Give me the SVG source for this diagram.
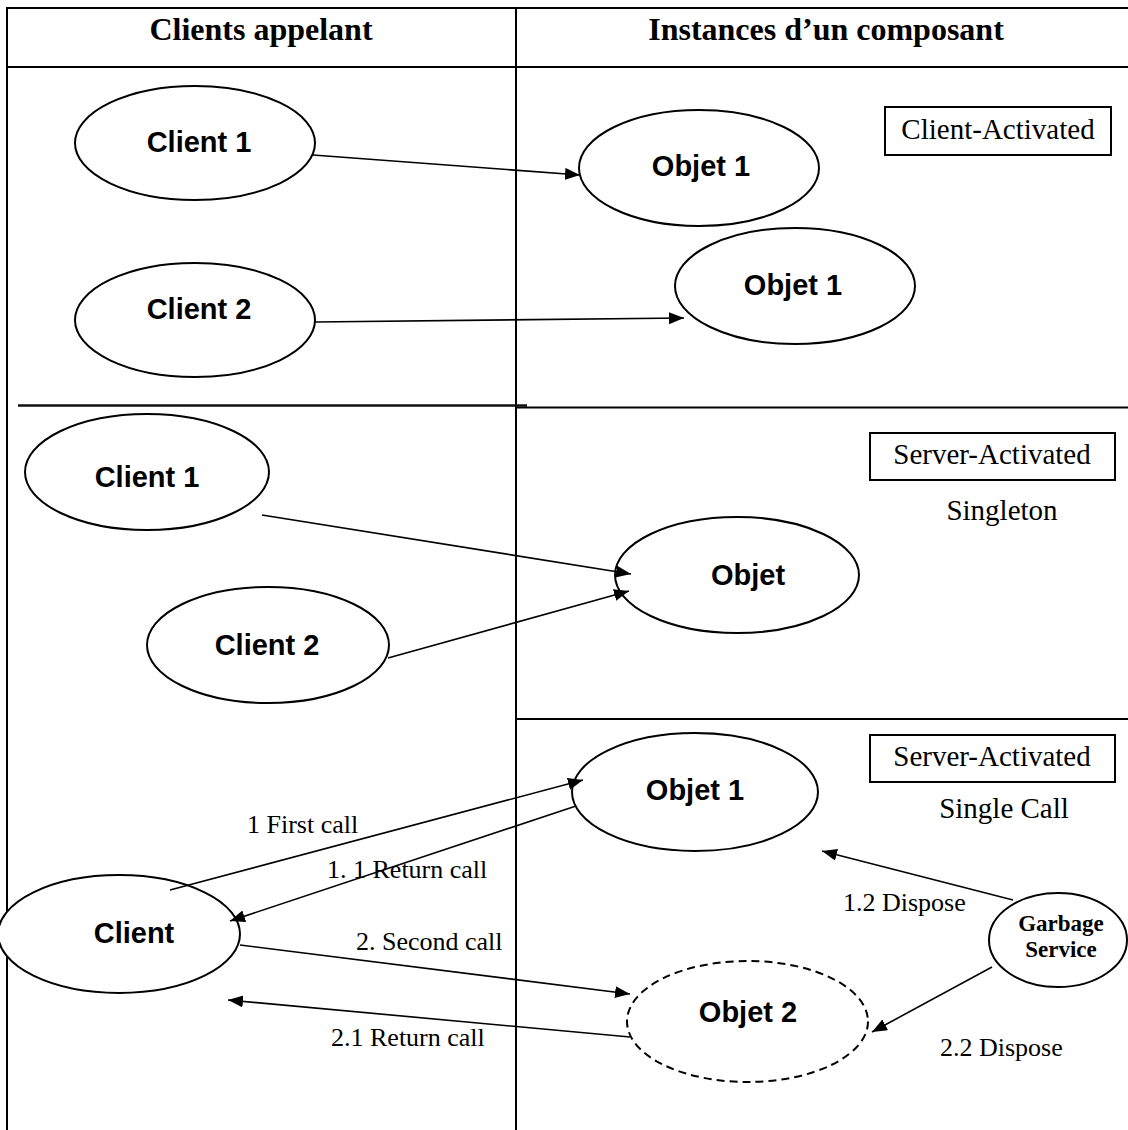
<svg xmlns="http://www.w3.org/2000/svg" width="1128" height="1130" viewBox="0 0 1128 1130">
  <defs>
    <style>
      .grid { stroke: #000; stroke-width: 2; fill: none; }
      .node { fill: #fff; stroke: #000; stroke-width: 2; }
      .dashed { stroke-dasharray: 8 5; }
      .edge { stroke: #000; stroke-width: 1.6; fill: none; marker-end: url(#arrow); }
      .head { font-family: "Liberation Serif", "Times New Roman", serif; font-weight: bold; font-size: 32px; text-anchor: middle; }
      .lbl { font-family: "Liberation Sans", Arial, sans-serif; font-weight: bold; font-size: 29px; text-anchor: middle; }
      .tag { font-family: "Liberation Serif", "Times New Roman", serif; font-size: 29px; text-anchor: middle; }
      .note { font-family: "Liberation Serif", "Times New Roman", serif; font-size: 26px; }
      .gb { font-family: "Liberation Serif", "Times New Roman", serif; font-weight: bold; font-size: 23px; text-anchor: middle; }
    </style>
    <marker id="arrow" markerUnits="userSpaceOnUse" markerWidth="16" markerHeight="13" refX="15" refY="6" orient="auto">
      <path d="M0,0 L15,6 L0,12 z" fill="#000"/>
    </marker>
  </defs>

  <!-- table frame -->
  <g id="table">
    <line class="grid" x1="6" y1="8" x2="1128" y2="8"/>
    <line class="grid" x1="7" y1="7" x2="7" y2="1130"/>
    <line class="grid" x1="6" y1="67" x2="1128" y2="67"/>
    <line class="grid" x1="516" y1="8" x2="516" y2="1130"/>
    <line x1="18" y1="405.5" x2="527" y2="405.5" stroke="#111" stroke-width="2.6"/>
    <line class="grid" x1="516" y1="407.5" x2="1128" y2="407.5"/>
    <line class="grid" x1="516" y1="719" x2="1128" y2="719"/>
    <text class="head" x="261" y="40">Clients appelant</text>
    <text class="head" x="826" y="40">Instances d’un composant</text>
  </g>

  <!-- activation mode tags -->
  <g id="tag-client-activated">
    <rect x="885" y="107" width="226" height="48" fill="#fff" stroke="#000" stroke-width="2"/>
    <text class="tag" x="998" y="139">Client-Activated</text>
  </g>
  <g id="tag-singleton">
    <rect x="870" y="433" width="245" height="47" fill="#fff" stroke="#000" stroke-width="2"/>
    <text class="tag" x="992" y="464">Server-Activated</text>
    <text class="tag" x="1002" y="520">Singleton</text>
  </g>
  <g id="tag-single-call">
    <rect x="870" y="735" width="245" height="47" fill="#fff" stroke="#000" stroke-width="2"/>
    <text class="tag" x="992" y="766">Server-Activated</text>
    <text class="tag" x="1004" y="818">Single Call</text>
  </g>

  <!-- client-activated row -->
  <g id="ca-client1">
    <ellipse class="node" cx="195" cy="143" rx="120" ry="57"/>
    <text class="lbl" x="199" y="152">Client 1</text>
  </g>
  <g id="ca-client2">
    <ellipse class="node" cx="195" cy="320" rx="120" ry="57"/>
    <text class="lbl" x="199" y="319">Client 2</text>
  </g>
  <g id="ca-objet1a">
    <ellipse class="node" cx="699" cy="168" rx="120" ry="58"/>
    <text class="lbl" x="701" y="176">Objet 1</text>
  </g>
  <g id="ca-objet1b">
    <ellipse class="node" cx="795" cy="286" rx="120" ry="58"/>
    <text class="lbl" x="793" y="295">Objet 1</text>
  </g>

  <!-- singleton row -->
  <g id="sg-client1">
    <ellipse class="node" cx="147" cy="472" rx="122" ry="58"/>
    <text class="lbl" x="147" y="487">Client 1</text>
  </g>
  <g id="sg-client2">
    <ellipse class="node" cx="268" cy="645" rx="121" ry="58"/>
    <text class="lbl" x="267" y="655">Client 2</text>
  </g>
  <g id="sg-objet">
    <ellipse class="node" cx="737" cy="575" rx="122" ry="58"/>
    <text class="lbl" x="748" y="585">Objet</text>
  </g>

  <!-- single call row -->
  <g id="sc-objet1">
    <ellipse class="node" cx="695" cy="792" rx="123" ry="59"/>
    <text class="lbl" x="695" y="800">Objet 1</text>
  </g>
  <g id="sc-client">
    <ellipse class="node" cx="119" cy="934" rx="121" ry="59"/>
    <text class="lbl" x="134" y="943">Client</text>
  </g>
  <g id="sc-objet2">
    <ellipse class="node dashed" cx="747.5" cy="1021.5" rx="120.5" ry="60.5"/>
    <text class="lbl" x="748" y="1022">Objet 2</text>
  </g>
  <g id="sc-garbage">
    <ellipse class="node" cx="1058" cy="940" rx="69" ry="47"/>
    <text class="gb" x="1061" y="931">Garbage</text>
    <text class="gb" x="1061" y="957">Service</text>
  </g>

  <!-- connectors, drawn over the nodes so the heads stay visible -->
  <g id="connectors">
    <line class="edge" x1="313" y1="155" x2="580" y2="175"/>
    <line class="edge" x1="315" y1="322" x2="684" y2="318"/>
    <line class="edge" x1="262" y1="515" x2="631" y2="574"/>
    <line class="edge" x1="388" y1="658" x2="629" y2="591"/>
    <line class="edge" x1="170" y1="890" x2="583" y2="780"/>
    <line class="edge" x1="576" y1="806" x2="230" y2="921"/>
    <line class="edge" x1="240" y1="945" x2="630" y2="994"/>
    <line class="edge" x1="630" y1="1037" x2="228" y2="1000"/>
    <line class="edge" x1="1013" y1="900" x2="822" y2="851"/>
    <line class="edge" x1="992" y1="967" x2="872" y2="1032"/>
    <text class="note" x="247" y="833">1 First call</text>
    <text class="note" x="327" y="878">1. 1 Return call</text>
    <text class="note" x="356" y="950">2. Second call</text>
    <text class="note" x="331" y="1046">2.1 Return call</text>
    <text class="note" x="843" y="911">1.2 Dispose</text>
    <text class="note" x="940" y="1056">2.2 Dispose</text>
  </g>
</svg>
